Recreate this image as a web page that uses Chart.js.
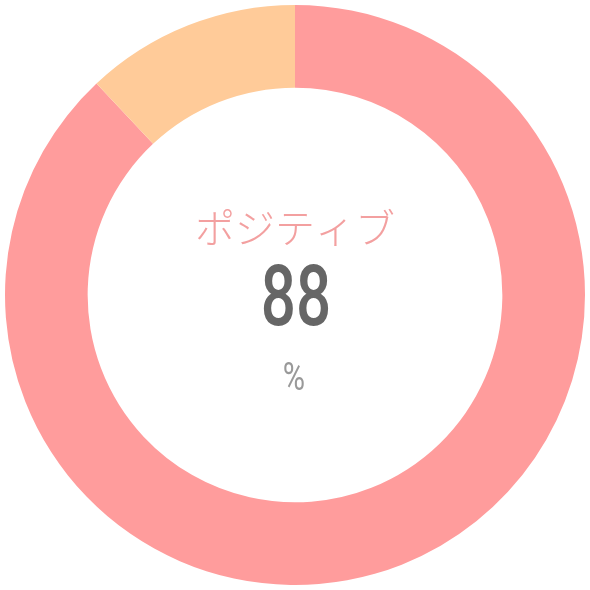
<!DOCTYPE html>
<html>
<head>
<meta charset="utf-8">
<script src="https://cdn.jsdelivr.net/npm/chart.js@4"></script>
<style>
  html, body { margin: 0; padding: 0; background: #fff; }
  #wrap { width: 590px; height: 590px; }
</style>
</head>
<body>
<div id="wrap"><canvas id="chart"></canvas></div>
<script>
// Data
const labels = ['ポジティブ', 'ネガティブ'];
const values = [88, 12];
const colors = ['#ff9c9c', '#ffcb99'];
const centerLabel = 'ポジティブ';
const centerUnit = '%';

// draws the label / number / unit in the hole
const centerText = {
  id: 'centerText',
  afterDraw(chart) {
    const ctx = chart.ctx;
    const arc = chart.getDatasetMeta(0).data[0];
    const x = arc.x, y = arc.y;
    ctx.save();
    ctx.textAlign = 'center';
    ctx.textBaseline = 'middle';

    ctx.fillStyle = '#f3a0a0';
    ctx.font = '300 40px "Noto Sans CJK JP"';
    ctx.fillText(centerLabel, x, y - 67);

    // condensed numerals
    ctx.save();
    ctx.translate(x + 1, y + 8);
    ctx.scale(0.72, 1);
    ctx.fillStyle = '#666666';
    ctx.font = '500 86px Roboto';
    ctx.fillText(String(values[0]), 0, 0);
    ctx.restore();

    ctx.save();
    ctx.translate(x - 1, y + 85);
    ctx.scale(0.8, 1);
    ctx.fillStyle = '#999999';
    ctx.font = '400 38px Roboto';
    ctx.fillText(centerUnit, 0, 0);
    ctx.restore();

    ctx.restore();
  }
};

const data = {
  labels: labels,
  datasets: [{
    data: values,
    backgroundColor: colors,
    borderWidth: 0,
    hoverOffset: 0
  }]
};

const config = {
  type: 'doughnut',
  data: data,
  options: {
    responsive: true,
    maintainAspectRatio: false,
    animation: false,
    cutout: '71.5%',
    layout: { padding: 5 },
    plugins: {
      legend: { display: false },
      tooltip: { enabled: false }
    }
  },
  plugins: [centerText]
};

const chart = new Chart(document.getElementById('chart'), config);
</script>
</body>
</html>
